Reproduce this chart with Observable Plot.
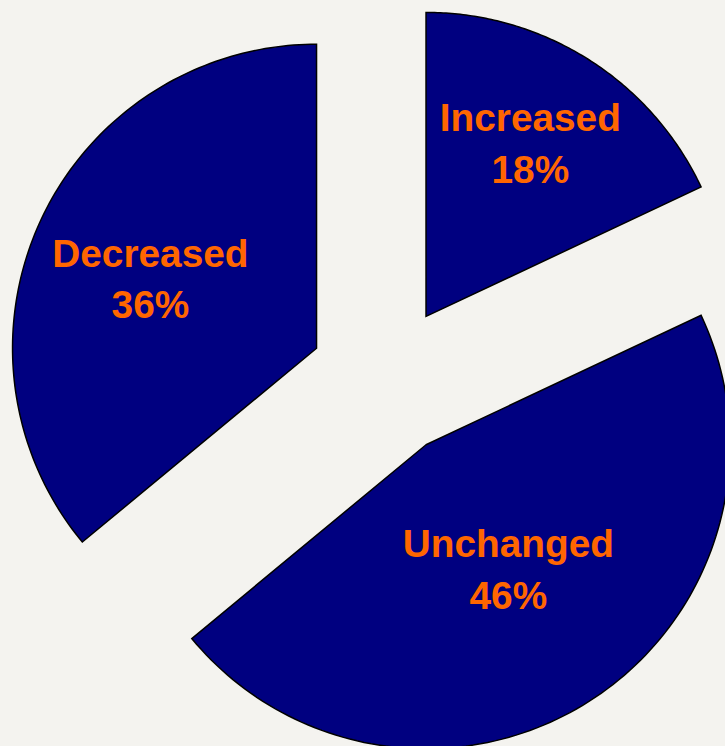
<!DOCTYPE html>
<html>
<head>
<meta charset="utf-8">
<script src="https://cdn.jsdelivr.net/npm/d3@7"></script>
<script src="https://cdn.jsdelivr.net/npm/@observablehq/plot@0.6"></script>
<style>
  html, body { margin: 0; padding: 0; background: #F4F3EF; overflow: hidden; }
  #chart { width: 725px; height: 746px; }
</style>
</head>
<body>
<div id="chart"></div>
<script>
// ---- data ----
const categories = ["Increased", "Unchanged", "Decreased"];
const percents = [18, 46, 36];

// ---- layout / style (not data) ----
const W = 725, H = 746;
const explode = 0.25;                 // slice offset, in radii
const labelRadius = {Increased: 0.672, Unchanged: 0.483, Decreased: 0.596}; // from slice apex, in radii
const labelAngleShift = -1.7 * Math.PI / 180;
const xDomain = [-1.2658, 1.1191];
const yDomain = [-1.2036, 1.2503];
const navy = "#000080", orange = "#FF6600";

const table = categories.map((c, i) => ({category: c, value: percents[i]}));
const arcs = d3.pie().value(d => d.value).sort(null)(table);

const pts = [];
const labels = [];
for (const a of arcs) {
  const mid = (a.startAngle + a.endAngle) / 2;
  const ox = explode * Math.sin(mid), oy = explode * Math.cos(mid);
  pts.push({category: a.data.category, x: ox, y: oy});
  const n = 120;
  for (let k = 0; k <= n; k++) {
    const t = a.startAngle + (a.endAngle - a.startAngle) * k / n;
    pts.push({category: a.data.category, x: ox + Math.sin(t), y: oy + Math.cos(t)});
  }
  const r = labelRadius[a.data.category];
  const la = mid + labelAngleShift;
  labels.push({
    x: ox + r * Math.sin(la),
    y: oy + r * Math.cos(la),
    text: `${a.data.category}\n${a.data.value}%`
  });
}

const chart = Plot.plot({
  width: W,
  height: H,
  margin: 0,
  style: {background: "#F4F3EF", overflow: "hidden"},
  x: {domain: xDomain, axis: null},
  y: {domain: yDomain, axis: null},
  marks: [
    Plot.line(pts, {
      x: "x", y: "y", z: "category",
      curve: "linear-closed",
      fill: navy, stroke: "#000", strokeWidth: 1.5,
      strokeLinejoin: "miter", strokeMiterlimit: 10
    }),
    Plot.text(labels, {
      x: "x", y: "y", text: "text",
      fill: orange,
      fontSize: 38.8,
      fontWeight: "bold",
      fontFamily: "Liberation Sans, Arial, Helvetica, sans-serif",
      lineHeight: 1.33,
      lineAnchor: "middle",
      textAnchor: "middle"
    })
  ]
});
document.getElementById("chart").appendChild(chart);
</script>
</body>
</html>
